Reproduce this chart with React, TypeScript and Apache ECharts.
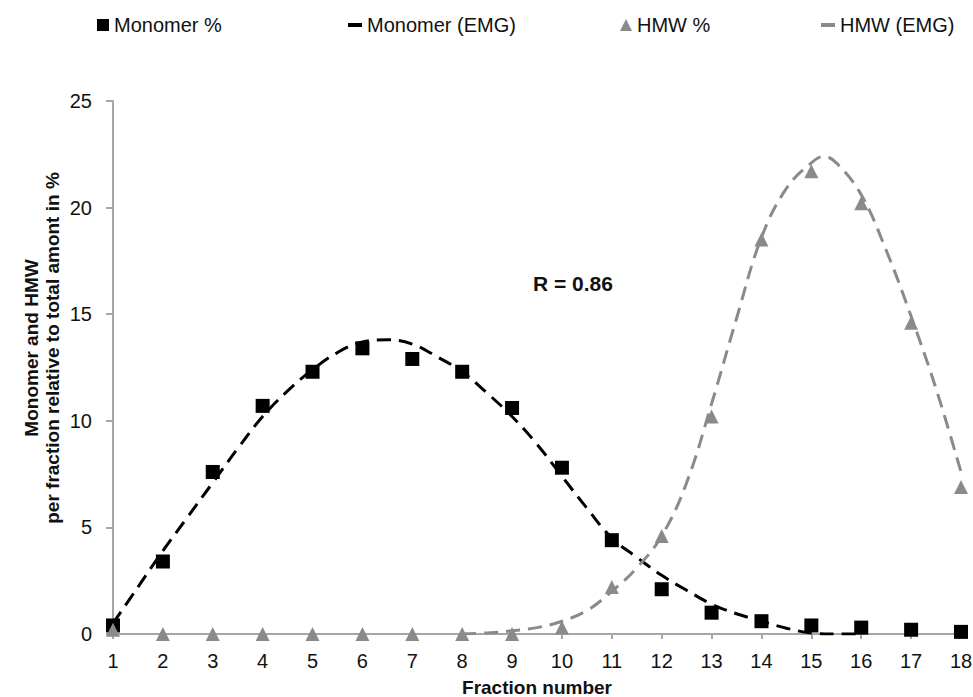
import React, { useEffect, useRef } from "react";
import * as echarts from "echarts";

const fractions = [1, 2, 3, 4, 5, 6, 7, 8, 9, 10, 11, 12, 13, 14, 15, 16, 17, 18];
const monomerPct = [0.4, 3.4, 7.6, 10.7, 12.3, 13.4, 12.9, 12.3, 10.6, 7.8, 4.4, 2.1, 1.0, 0.6, 0.4, 0.3, 0.2, 0.1];
const hmwPct = [0.2, 0, 0, 0, 0, 0, 0, 0, 0, 0.3, 2.2, 4.6, 10.2, 18.5, 21.7, 20.2, 14.6, 6.9];

const monomerFitX = [1, 1.5, 2, 2.5, 3, 3.5, 4, 4.5, 5, 5.5, 6, 6.5, 7, 7.5, 8, 8.5, 9, 9.5, 10, 10.5, 11, 11.5, 12, 12.5, 13, 13.5, 14, 14.5, 15, 15.5, 16];
const monomerFitY = [0.5, 2.2, 3.9, 5.5, 7.1, 8.7, 10.2, 11.4, 12.4, 13.2, 13.7, 13.8, 13.6, 13.0, 12.3, 11.3, 10.2, 8.9, 7.4, 5.9, 4.5, 3.6, 2.75, 2.05, 1.4, 0.95, 0.6, 0.27, 0.05, 0, 0];

const hmwFitX = [8, 8.5, 9, 9.5, 10, 10.5, 11, 11.5, 12, 12.5, 13, 13.5, 14, 14.5, 15, 15.25, 15.5, 16, 16.5, 17, 17.5, 18];
const hmwFitY = [0, 0.05, 0.15, 0.3, 0.6, 1.1, 2.0, 3.1, 4.6, 7.1, 10.8, 14.8, 18.6, 20.9, 22.1, 22.4, 22.1, 20.6, 18.0, 14.9, 11.5, 7.6];

const seriesNames = ["Monomer %", "Monomer (EMG)", "HMW %", "HMW (EMG)"];
const yTitleLines = ["Monomer and HMW", "per fraction relative to total amont in %"];
const xTitle = "Fraction number";
const annotation = "R = 0.86";

const FONT = "'Liberation Sans', Arial, Helvetica, sans-serif";
const BLACK = "#000000";
const GREY = "#8a8a8a";
const AXIS = "#a6a6a6";

export default function App() {
  const ref = useRef<HTMLDivElement>(null);
  useEffect(() => {
    if (!ref.current) return;
    const chart = echarts.init(ref.current, undefined, { renderer: "svg" });
    const legendBase = {
      top: 10,
      textStyle: { fontFamily: FONT, fontSize: 20, color: "#111" },
      itemGap: 10,
    };
    chart.setOption({
      animation: false,
      backgroundColor: "#ffffff",
      textStyle: { fontFamily: FONT },
      grid: { left: 113, right: 12, top: 101, bottom: 63, containLabel: false, outerBoundsMode: "none" },
      legend: [
        { ...legendBase, left: 92, data: [{ name: seriesNames[0], icon: "rect" }], itemWidth: 12, itemHeight: 12 },
        { ...legendBase, left: 343, data: [{ name: seriesNames[1], icon: "rect" }], itemWidth: 14, itemHeight: 4 },
        { ...legendBase, left: 615, data: [{ name: seriesNames[2], icon: "triangle" }], itemWidth: 12, itemHeight: 12, itemGap: 6 },
        { ...legendBase, left: 816, data: [{ name: seriesNames[3], icon: "rect" }], itemWidth: 14, itemHeight: 4 },
      ],
      xAxis: {
        type: "value",
        min: 1,
        max: 18,
        interval: 1,
        name: xTitle,
        nameLocation: "middle",
        nameGap: 44,
        nameTextStyle: { fontFamily: FONT, fontSize: 19, fontWeight: "bold", color: "#111" },
        axisLine: { show: true, onZero: false, lineStyle: { color: AXIS, width: 2 } },
        axisTick: { show: true, inside: false, length: 5, lineStyle: { color: AXIS, width: 2 } },
        axisLabel: { fontFamily: FONT, fontSize: 20, color: "#111", margin: 17 },
        splitLine: { show: false },
      },
      yAxis: {
        type: "value",
        min: 0,
        max: 25,
        interval: 5,
        axisLine: { show: true, lineStyle: { color: AXIS, width: 2 } },
        axisTick: { show: true, inside: false, length: 7, lineStyle: { color: AXIS, width: 2 } },
        axisLabel: { fontFamily: FONT, fontSize: 20, color: "#111", margin: 21 },
        splitLine: { show: false },
      },
      graphic: [
        {
          type: "text",
          x: 42,
          y: 348,
          rotation: Math.PI / 2,
          style: {
            text: yTitleLines.join("\n"),
            fontFamily: FONT,
            fontSize: 19,
            fontWeight: "bold",
            fill: "#111",
            lineHeight: 21,
            align: "center",
            verticalAlign: "middle",
          },
        },
        {
          type: "text",
          x: 533,
          y: 283,
          style: {
            text: annotation,
            fontFamily: FONT,
            fontSize: 21,
            fontWeight: "bold",
            fill: "#111",
            align: "left",
            verticalAlign: "middle",
          },
        },
      ],
      series: [
        {
          name: seriesNames[1],
          type: "line",
          smooth: 0.4,
          showSymbol: false,
          symbol: "none",
          color: BLACK,
          lineStyle: { color: BLACK, width: 3, type: [14, 8] },
          data: monomerFitX.map((x, i) => [x, monomerFitY[i]]),
          z: 2,
        },
        {
          name: seriesNames[3],
          type: "line",
          smooth: 0.4,
          showSymbol: false,
          symbol: "none",
          color: GREY,
          lineStyle: { color: GREY, width: 3, type: [14, 8] },
          data: hmwFitX.map((x, i) => [x, hmwFitY[i]]),
          z: 2,
        },
        {
          name: seriesNames[0],
          type: "scatter",
          symbol: "rect",
          symbolSize: 14,
          itemStyle: { color: BLACK, opacity: 1 },
          data: fractions.map((x, i) => [x, monomerPct[i]]),
          z: 3,
        },
        {
          name: seriesNames[2],
          type: "scatter",
          symbol: "triangle",
          symbolSize: 14,
          itemStyle: { color: GREY, opacity: 1 },
          data: fractions.map((x, i) => [x, hmwPct[i]]),
          z: 4,
        },
      ],
    });
    return () => chart.dispose();
  }, []);
  return (
    <div
      ref={ref}
      style={{ position: "fixed", left: 0, top: 0, width: 973, height: 697, background: "#fff" }}
    />
  );
}
